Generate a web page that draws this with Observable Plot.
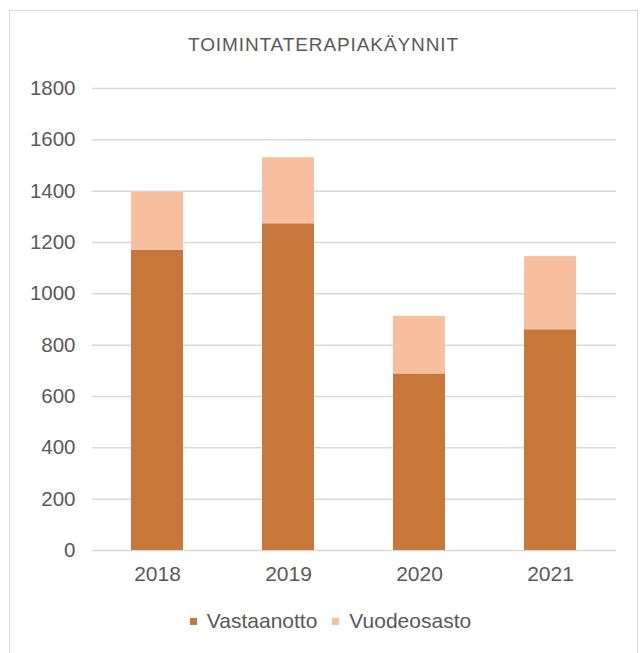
<!DOCTYPE html>
<html>
<head>
<meta charset="utf-8">
<script src="https://cdn.jsdelivr.net/npm/d3@7"></script>
<script src="https://cdn.jsdelivr.net/npm/@observablehq/plot@0.6"></script>
<style>
  html, body { margin: 0; padding: 0; background: #fff; width: 641px; height: 653px; overflow: hidden; }
  #frame { position: absolute; left: 9px; top: 10px; width: 627px; height: 660px; border: 1px solid #d9d9d9; border-bottom: none; background: #fff; font-family: "Liberation Sans", Arial, sans-serif; color: #595959; }
  #title { position: absolute; top: 23px; left: 0; width: 100%; text-align: center; font-size: 19px; line-height: 22px; letter-spacing: 0.9px; }
  #chart { position: absolute; top: 59px; left: 0; }
  #legend { position: absolute; top: 599px; left: 7px; width: 100%; display: flex; justify-content: center; gap: 15px; font-size: 21px; line-height: 22px; }
  .item { display: flex; align-items: center; gap: 10px; }
  .sw { width: 7px; height: 7px; display: inline-block; }
</style>
</head>
<body>
<div id="frame">
  <div id="title">TOIMINTATERAPIAKÄYNNIT</div>
  <div id="chart"></div>
  <div id="legend"></div>
</div>
<script>
const years = ["2018", "2019", "2020", "2021"];
const seriesNames = ["Vastaanotto", "Vuodeosasto"];
const vastaanotto = [1170, 1273, 688, 860];
const vuodeosasto = [225, 257, 224, 285];
const yTicks = [0, 200, 400, 600, 800, 1000, 1200, 1400, 1600, 1800];
const colors = ["#C8773A", "#F8BF9F"];

const rows = [];
years.forEach((y, i) => rows.push({year: y, series: seriesNames[0], value: vastaanotto[i]}));
years.forEach((y, i) => rows.push({year: y, series: seriesNames[1], value: vuodeosasto[i]}));

const chart = Plot.plot({
  width: 627,
  height: 530,
  marginLeft: 82,
  marginRight: 21,
  marginTop: 18,
  marginBottom: 50,
  style: {fontFamily: "'Liberation Sans', Arial, sans-serif", fontSize: "21px", color: "#595959", background: "#fff"},
  x: {domain: years, paddingInner: 0.6, paddingOuter: 0.3, label: null},
  y: {domain: [0, 1800], label: null},
  color: {domain: seriesNames, range: colors},
  marks: [
    Plot.gridY(yTicks, {stroke: "#d9d9d9", strokeOpacity: 1, strokeWidth: 1.5}),
    Plot.barY(rows, {x: "year", y: "value", fill: "series", order: seriesNames}),
    Plot.axisY(yTicks, {tickSize: 0, tickPadding: 17, fontSize: 20.5, fill: "#595959", tickFormat: d => String(d), label: null}),
    Plot.axisX({tickSize: 0, tickPadding: 16, fontSize: 21, fill: "#595959", label: null})
  ]
});
document.getElementById("chart").appendChild(chart);

const legend = document.getElementById("legend");
seriesNames.forEach((s, i) => {
  const item = document.createElement("div");
  item.className = "item";
  const sw = document.createElement("span");
  sw.className = "sw";
  sw.style.background = colors[i];
  const t = document.createElement("span");
  t.textContent = s;
  item.appendChild(sw);
  item.appendChild(t);
  legend.appendChild(item);
});
</script>
</body>
</html>
